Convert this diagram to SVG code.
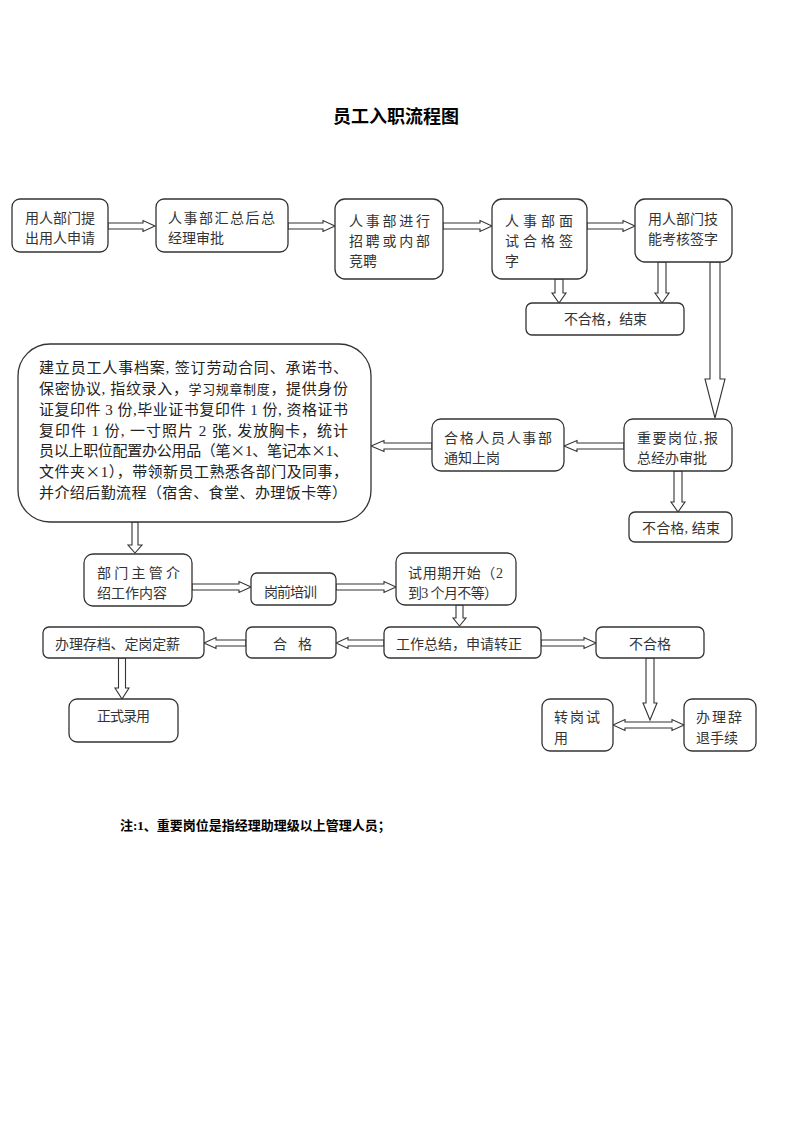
<svg xmlns="http://www.w3.org/2000/svg" width="793" height="1122" viewBox="0 0 793 1122">
<style>
.box{fill:#fff;stroke:#333;stroke-width:1.3}
.arr{fill:#fff;stroke:#333;stroke-width:1.1;stroke-linejoin:miter}
.t{font-family:"Liberation Serif","Noto Sans CJK SC",serif;font-size:14px;fill:#333}
.tb{font-family:"Liberation Serif","Noto Sans CJK SC",serif;font-size:15px;fill:#222}
.cjk{font-family:"Noto Sans CJK SC",sans-serif}
.title{font-family:"Liberation Serif","Noto Sans CJK SC",serif;font-size:18px;font-weight:bold;fill:#000}
.note{font-family:"Liberation Serif","Noto Sans CJK SC",serif;font-size:13px;font-weight:bold;fill:#000}
</style>
<rect width="793" height="1122" fill="#fff"/>
<text class="title" x="396" y="123" text-anchor="middle">员工入职流程图</text>

<g id="connectors">
<polygon class="arr" points="108,223 143,223 143,220.5 155,226 143,231.5 143,229 108,229"/>
<polygon class="arr" points="288,223 323,223 323,220.5 335,226 323,231.5 323,229 288,229"/>
<polygon class="arr" points="443,223 480,223 480,220.5 492,226 480,231.5 480,229 443,229"/>
<polygon class="arr" points="587,223 623,223 623,220.5 635,226 623,231.5 623,229 587,229"/>
<polygon class="arr" points="555,279 563,279 563,293 566,293 559,303 552,293 555,293"/>
<polygon class="arr" points="658,262 666,262 666,293 669,293 662,303 655,293 658,293"/>
<polygon class="arr" points="710,262 720,262 720,379 725,379 715,418 705,379 710,379"/>
<polygon class="arr" points="674,471 682,471 682,502 685,502 678,512 671,502 674,502"/>
<polygon class="arr" points="624,443 577,443 577,440.5 564,446 577,451.5 577,449 624,449"/>
<polygon class="arr" points="432,443 384,443 384,440.5 371,446 384,451.5 384,449 432,449"/>
<polygon class="arr" points="132,522 138,522 138,545 142,545 135,553 128,545 132,545"/>
<polygon class="arr" points="192,584 239,584 239,581.5 251,587 239,592.5 239,590 192,590"/>
<polygon class="arr" points="336,584 384,584 384,581.5 396,587 384,592.5 384,590 336,590"/>
<polygon class="arr" points="456,605 463,605 463,618 466,618 459.5,626 453,618 456,618"/>
<polygon class="arr" points="541,640 584,640 584,637.5 596,643 584,648.5 584,646 541,646"/>
<polygon class="arr" points="384,640 348,640 348,637.5 336,643 348,648.5 348,646 384,646"/>
<polygon class="arr" points="246,640 216,640 216,637.5 204,643 216,648.5 216,646 246,646"/>
<polygon class="arr" points="118.5,658 125.5,658 125.5,688 129,688 122,699 115,688 118.5,688"/>
<polygon class="arr" points="646,658 654,658 654,703 657,703 650,720 643,703 646,703"/>
<polygon class="arr" points="613,725 625,719.5 625,722 672,722 672,719.5 684,725 672,730.5 672,728 625,728 625,730.5"/>
</g>

<g id="n1">
<rect class="box" x="12" y="199" width="96" height="53" rx="8"/>
<text class="t" x="25" y="223">用人部门提</text>
<text class="t" x="25" y="243">出用人申请</text>
</g>
<g id="n2">
<rect class="box" x="156" y="199" width="132" height="53" rx="8"/>
<text class="t" x="168" y="223" textLength="107" lengthAdjust="spacing">人事部汇总后总</text>
<text class="t" x="168" y="243">经理审批</text>
</g>
<g id="n3">
<rect class="box" x="335" y="199" width="108" height="80" rx="10"/>
<text class="t" x="349" y="226" textLength="81" lengthAdjust="spacing">人事部进行</text>
<text class="t" x="349" y="246" textLength="81" lengthAdjust="spacing">招聘或内部</text>
<text class="t" x="349" y="266">竞聘</text>
</g>
<g id="n4">
<rect class="box" x="492" y="199" width="95" height="80" rx="10"/>
<text class="t" x="505" y="226" textLength="68" lengthAdjust="spacing">人事部面</text>
<text class="t" x="505" y="246" textLength="68" lengthAdjust="spacing">试合格签</text>
<text class="t" x="505" y="266">字</text>
</g>
<g id="n5">
<rect class="box" x="635" y="199" width="97" height="63" rx="10"/>
<text class="t" x="648" y="224">用人部门技</text>
<text class="t" x="648" y="244">能考核签字</text>
</g>
<g id="n6">
<rect class="box" x="526" y="303" width="158" height="32" rx="6"/>
<text class="t" x="564" y="324" textLength="83" lengthAdjust="spacing">不合格，结束</text>
</g>
<g id="n7">
<rect class="box" x="624" y="419" width="108" height="52" rx="9"/>
<text class="t" x="637" y="443" textLength="81" lengthAdjust="spacing">重要岗位,报</text>
<text class="t" x="637" y="463">总经办审批</text>
</g>
<g id="n8">
<rect class="box" x="432" y="419" width="132" height="52" rx="9"/>
<text class="t" x="444" y="443" textLength="108" lengthAdjust="spacing">合格人员人事部</text>
<text class="t" x="444" y="463">通知上岗</text>
</g>
<g id="n9">
<rect class="box" x="629" y="512" width="103" height="30" rx="6"/>
<text class="t" x="642" y="533" textLength="78" lengthAdjust="spacing">不合格, 结束</text>
</g>
<g id="n10">
<rect class="box" x="18" y="344" width="353" height="178" rx="32"/>
<text class="tb" x="39" y="373" textLength="309" lengthAdjust="spacing">建立员工人事档案, 签订劳动合同、承诺书、</text>
<text class="tb" x="39" y="394" textLength="309" lengthAdjust="spacing">保密协议, 指纹录入，<tspan font-size="13">学习规章制度</tspan>，提供身份</text>
<text class="tb" x="39" y="415" textLength="309" lengthAdjust="spacing">证复印件 3 份,毕业证书复印件 1 份, 资格证书</text>
<text class="tb" x="39" y="436" textLength="309" lengthAdjust="spacing">复印件 1 份, 一寸照片 2 张, 发放胸卡，统计</text>
<text class="tb" x="39" y="456" textLength="309" lengthAdjust="spacing">员以上职位配置办公用品（笔<tspan class="cjk">×</tspan>1、笔记本<tspan class="cjk">×</tspan>1、</text>
<text class="tb" x="39" y="477" textLength="309" lengthAdjust="spacing">文件夹<tspan class="cjk">×</tspan>1），带领新员工熟悉各部门及同事，</text>
<text class="tb" x="39" y="498" textLength="308" lengthAdjust="spacing">并介绍后勤流程（宿舍、食堂、办理饭卡等）</text>
</g>
<g id="n11">
<rect class="box" x="84" y="554" width="108" height="52" rx="9"/>
<text class="t" x="97" y="578" textLength="83" lengthAdjust="spacing">部门主管介</text>
<text class="t" x="97" y="598">绍工作内容</text>
</g>
<g id="n12">
<rect class="box" x="251" y="573" width="85" height="32" rx="6"/>
<text class="t" x="264" y="597" textLength="53" lengthAdjust="spacing">岗前培训</text>
</g>
<g id="n13">
<rect class="box" x="396" y="553" width="120" height="52" rx="9"/>
<text class="t" x="408" y="578" textLength="95" lengthAdjust="spacing">试用期开始（2</text>
<text class="t" x="408" y="598" textLength="90" lengthAdjust="spacing">到3 个月不等）</text>
</g>
<g id="n14">
<rect class="box" x="384" y="627" width="157" height="31" rx="6"/>
<text class="t" x="396" y="649" textLength="126" lengthAdjust="spacing">工作总结，申请转正</text>
</g>
<g id="n15">
<rect class="box" x="596" y="627" width="108" height="31" rx="6"/>
<text class="t" x="650" y="649" text-anchor="middle">不合格</text>
</g>
<g id="n16">
<rect class="box" x="246" y="627" width="90" height="31" rx="6"/>
<text class="t" x="273" y="649">合</text>
<text class="t" x="298" y="649">格</text>
</g>
<g id="n17">
<rect class="box" x="43" y="627" width="161" height="31" rx="6"/>
<text class="t" x="55" y="649" textLength="125" lengthAdjust="spacing">办理存档、定岗定薪</text>
</g>
<g id="n18">
<rect class="box" x="69" y="699" width="109" height="43" rx="8"/>
<text class="t" x="97" y="721" textLength="53" lengthAdjust="spacing">正式录用</text>
</g>
<g id="n19">
<rect class="box" x="542" y="699" width="71" height="52" rx="8"/>
<text class="t" x="554" y="722" textLength="46" lengthAdjust="spacing">转岗试</text>
<text class="t" x="554" y="743">用</text>
</g>
<g id="n20">
<rect class="box" x="684" y="699" width="72" height="52" rx="8"/>
<text class="t" x="696" y="722" textLength="46" lengthAdjust="spacing">办理辞</text>
<text class="t" x="696" y="743">退手续</text>
</g>

<text class="note" x="120" y="830">注:1、重要岗位是指经理助理级以上管理人员；</text>
</svg>
